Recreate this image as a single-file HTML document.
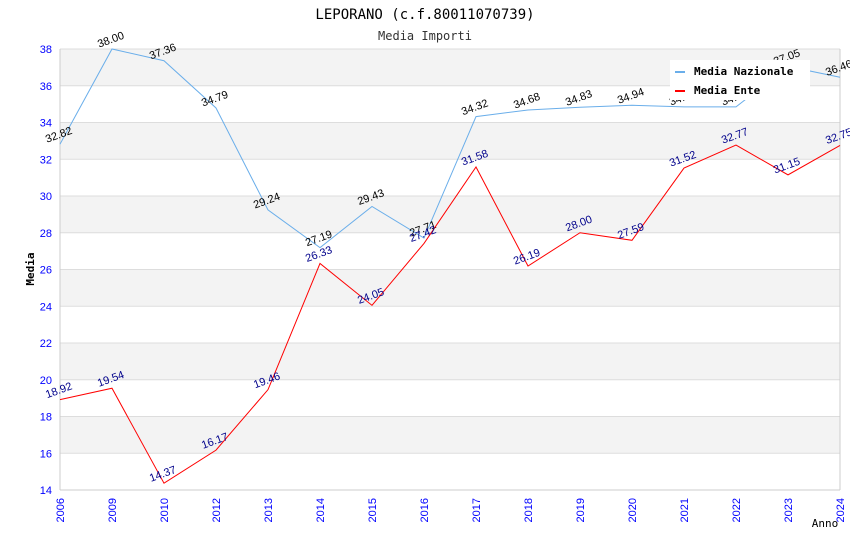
<!DOCTYPE html>
<html><head><meta charset="utf-8"><style>
body{margin:0;background:#fff;}
svg text{font-family:"DejaVu Sans Mono","Liberation Mono",monospace;}
svg text.s{font-family:"Liberation Sans","DejaVu Sans",sans-serif;}
</style></head><body>
<svg id="c" width="850" height="550" xmlns="http://www.w3.org/2000/svg">
<text x="425" y="19" text-anchor="middle" font-size="14" fill="#000">LEPORANO (c.f.80011070739)</text>
<text x="425" y="40" text-anchor="middle" font-size="12" fill="#333">Media Importi</text>
<g id="bands"></g><g id="axes"></g><g id="series"></g>
<text x="34" y="269" font-size="11" font-weight="bold" text-anchor="middle" transform="rotate(-90 34 269)">Media</text>
<text x="825" y="527" font-size="11" text-anchor="middle">Anno</text>
<g id="legend">
<rect x="670" y="60" width="140" height="40" fill="#fff"/>
<rect x="675" y="71" width="10" height="2" fill="#6aaeea"/>
<text x="694" y="75" font-size="11" font-weight="bold">Media Nazionale</text>
<rect x="675" y="90" width="10" height="2" fill="#f00"/>
<text x="694" y="94" font-size="11" font-weight="bold">Media Ente</text>
</g>
</svg>
<script>
const years=["2006","2009","2010","2012","2013","2014","2015","2016","2017","2018","2019","2020","2021","2022","2023","2024"];
const nazionale=[32.82,38.00,37.36,34.79,29.24,27.19,29.43,27.71,34.32,34.68,34.83,34.94,34.85,34.85,37.05,36.46];
const ente=[18.92,19.54,14.37,16.17,19.46,26.33,24.05,27.42,31.58,26.19,28.00,27.59,31.52,32.77,31.15,32.75];
const yTicks=[14,16,18,20,22,24,26,28,30,32,34,36,38];
const NS="http://www.w3.org/2000/svg";
const X0=60,X1=840,Y0=490,Y1=49,ymin=14,ymax=38;
const xs=i=>X0+i*(X1-X0)/(years.length-1);
const ys=v=>Y0-(v-ymin)*(Y0-Y1)/(ymax-ymin);
function mk(t,a,p){const e=document.createElementNS(NS,t);for(const k in a)e.setAttribute(k,a[k]);p.appendChild(e);return e;}
const bands=document.getElementById('bands'),axes=document.getElementById('axes'),ser=document.getElementById('series');
for(let i=0;i<yTicks.length-1;i++){
 const a=yTicks[i],b=yTicks[i+1];
 const r=mk('rect',{x:X0,y:ys(b),width:X1-X0,height:ys(a)-ys(b),fill:(i%2==1)?'#f3f3f3':'#fff'},bands);
 
 
}
yTicks.forEach(v=>{
 mk('line',{x1:X0,x2:X1,y1:ys(v),y2:ys(v),stroke:'#ddd','stroke-width':1},axes);
 const t=mk('text',{class:'s',x:X0-8,y:ys(v)+4,'text-anchor':'end','font-size':11,fill:'#00f'},axes);
 t.textContent=v;
 
 
});
mk('line',{x1:X0,x2:X0,y1:Y1,y2:Y0,stroke:'#ccc'},axes);
mk('line',{x1:X1,x2:X1,y1:Y1,y2:Y0,stroke:'#ccc'},axes);
mk('line',{x1:X0,x2:X1,y1:Y0,y2:Y0,stroke:'#ccc'},axes);
years.forEach((y,i)=>{
 const x=xs(i);
 const t=mk('text',{class:'s',x:x+4,y:Y0+8,'text-anchor':'end','font-size':11,fill:'#00f',transform:`rotate(-90 ${x+4} ${Y0+8})`},axes);
 t.textContent=y;
 
 
});
function series(vals,color,lblColor,name){
 const p=mk('polyline',{points:vals.map((v,i)=>xs(i)+','+ys(v)).join(' '),fill:'none',stroke:color,'stroke-width':1},ser);
 
 
 vals.forEach((v,i)=>{
  const x=xs(i),y=ys(v)-6;
  const t=mk('text',{class:'s',x:x,y:y,'text-anchor':'middle','font-size':11,fill:lblColor,transform:`rotate(-20 ${x} ${y})`},ser);
  t.textContent=v.toFixed(2);
  
  
 });
}
series(nazionale,'#6aaeea','#000','nazionale');
series(ente,'#f00','#00008b','ente');
document.getElementById('c').appendChild(document.getElementById('legend'));
</script>
</body></html>
